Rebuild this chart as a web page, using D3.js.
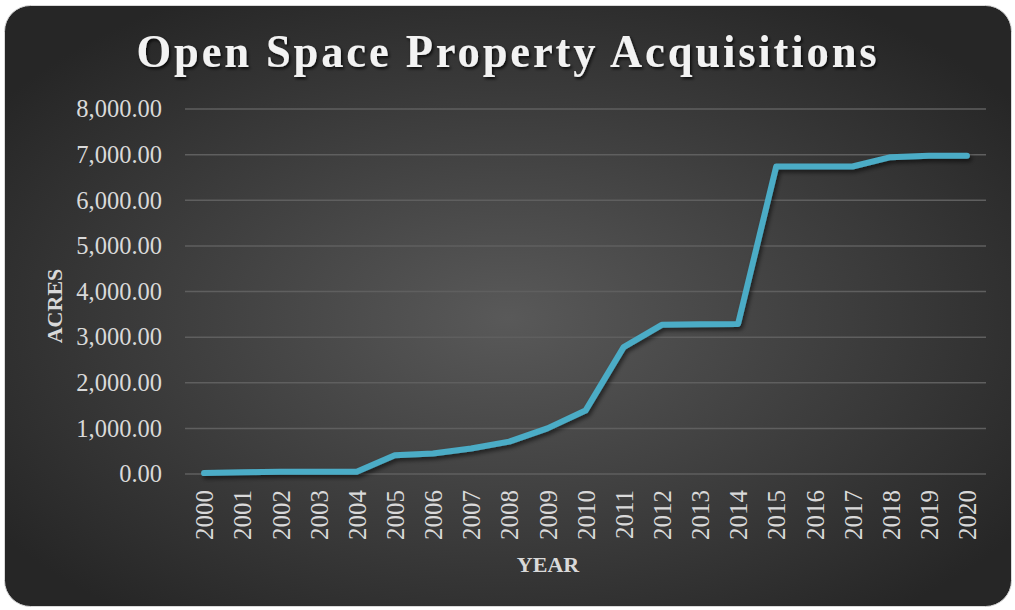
<!DOCTYPE html>
<html lang="en">
<head>
<meta charset="utf-8">
<script src="https://d3js.org/d3.v7.min.js"></script>
<style>
  body { margin: 0; background: #fff; }
  svg { display: block; }
</style>
</head>
<body>
<div id="chart"></div>
<script>
// chart data
const years = ["2000", "2001", "2002", "2003", "2004", "2005", "2006", "2007", "2008", "2009", "2010",
               "2011", "2012", "2013", "2014", "2015", "2016", "2017", "2018", "2019", "2020"];
const acres = [20, 40, 50, 50, 50, 410, 450, 560, 710, 1000, 1390,
               2780, 3270, 3280, 3290, 6740, 6740, 6740, 6945, 6975, 6975];
const yTicks = [0, 1000, 2000, 3000, 4000, 5000, 6000, 7000, 8000];

const W = 1015, H = 610;
const plot = { left: 185, right: 986, top: 109, bottom: 474 };
const serif = "'Liberation Serif', 'DejaVu Serif', serif";

const svg = d3.select("#chart").append("svg")
    .attr("width", W)
    .attr("height", H);

const defs = svg.append("defs");
const grad = defs.append("radialGradient")
    .attr("id", "bg")
    .attr("cx", "50%").attr("cy", "52%").attr("r", "62%");
grad.append("stop").attr("offset", "0%").attr("stop-color", "#595959");
grad.append("stop").attr("offset", "100%").attr("stop-color", "#262626");

const shadow = defs.append("filter").attr("id", "shadow")
    .attr("x", "-10%").attr("y", "-10%").attr("width", "120%").attr("height", "130%");
shadow.append("feDropShadow")
    .attr("dx", 2).attr("dy", 3).attr("stdDeviation", 2)
    .attr("flood-color", "#000").attr("flood-opacity", 0.55);

const tshadow = defs.append("filter").attr("id", "tshadow");
tshadow.append("feDropShadow")
    .attr("dx", 1.5).attr("dy", 2).attr("stdDeviation", 1.5)
    .attr("flood-color", "#000").attr("flood-opacity", 0.8);

// card
svg.append("rect")
    .attr("x", 4.5).attr("y", 5.5)
    .attr("width", 1007).attr("height", 601)
    .attr("rx", 26).attr("ry", 26)
    .attr("fill", "url(#bg)")
    .attr("stroke", "#d9d9d9")
    .attr("stroke-width", 1);

// title
svg.append("text")
    .attr("x", 508).attr("y", 67)
    .attr("text-anchor", "middle")
    .attr("font-family", serif)
    .attr("font-weight", "bold")
    .attr("font-size", 47)
    .attr("letter-spacing", 3)
    .attr("textLength", 743)
    .attr("lengthAdjust", "spacingAndGlyphs")
    .attr("fill", "#f2f2f2")
    .attr("filter", "url(#tshadow)")
    .text("Open Space Property Acquisitions");

const x = d3.scalePoint()
    .domain(years)
    .range([plot.left, plot.right])
    .padding(0.5);

const y = d3.scaleLinear()
    .domain([0, 8000])
    .range([plot.bottom, plot.top]);

// gridlines
svg.append("g")
    .selectAll("line")
    .data(yTicks)
    .join("line")
    .attr("x1", plot.left).attr("x2", plot.right)
    .attr("y1", d => y(d)).attr("y2", d => y(d))
    .attr("stroke", "#5f5f5f")
    .attr("stroke-width", 1.5);

// y axis
const yAxis = svg.append("g")
    .attr("transform", `translate(${plot.left},0)`)
    .call(d3.axisLeft(y).tickValues(yTicks).tickSize(0).tickPadding(23)
        .tickFormat(d3.format(",.2f")));
yAxis.select(".domain").remove();
yAxis.selectAll("text")
    .attr("font-family", serif)
    .attr("font-size", 24.5)
    .attr("fill", "#d9d9d9");

// x axis
const xAxis = svg.append("g")
    .attr("transform", `translate(0,${plot.bottom})`)
    .call(d3.axisBottom(x).tickSize(0));
xAxis.select(".domain").remove();
xAxis.selectAll("text")
    .attr("font-family", serif)
    .attr("font-size", 25)
    .attr("fill", "#d9d9d9")
    .attr("text-anchor", "end")
    .attr("dy", "0.35em")
    .attr("transform", "translate(0,16) rotate(-90)")
    .attr("x", 0).attr("y", 0);

// axis titles
svg.append("text")
    .attr("transform", "translate(62,306) rotate(-90)")
    .attr("text-anchor", "middle")
    .attr("font-family", serif)
    .attr("font-weight", "bold")
    .attr("font-size", 22)
    .attr("fill", "#d9d9d9")
    .text("ACRES");

svg.append("text")
    .attr("x", 548).attr("y", 572)
    .attr("text-anchor", "middle")
    .attr("font-family", serif)
    .attr("font-weight", "bold")
    .attr("font-size", 22)
    .attr("fill", "#d9d9d9")
    .text("YEAR");

// line
const line = d3.line()
    .x((d, i) => x(years[i]))
    .y(d => y(d));

svg.append("path")
    .datum(acres)
    .attr("d", line)
    .attr("fill", "none")
    .attr("stroke", "#4bacc6")
    .attr("stroke-width", 6)
    .attr("stroke-linecap", "round")
    .attr("stroke-linejoin", "round")
    .attr("filter", "url(#shadow)");
</script>
</body>
</html>
